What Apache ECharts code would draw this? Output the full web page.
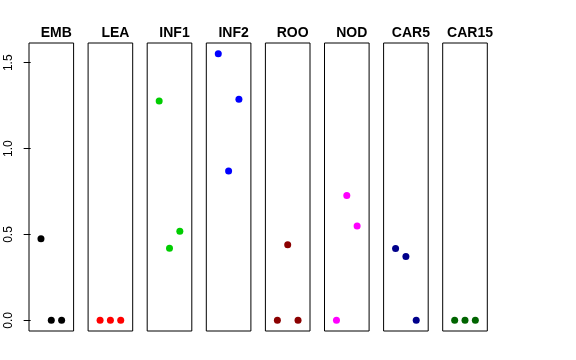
<!DOCTYPE html>
<html><head><meta charset="utf-8">
<script src="https://cdn.jsdelivr.net/npm/echarts@6/dist/echarts.min.js"></script>
<style>html,body{margin:0;padding:0;background:#fff}#c{width:576px;height:360px}</style>
</head><body><div id="c"></div>
<script>
var panels = ["EMB","LEA","INF1","INF2","ROO","NOD","CAR5","CAR15"];
var colors = ["#000000","#FF0000","#00CD00","#0000FF","#8B0000","#FF00FF","#00008B","#006400"];
var xs = [1,2,3];
var EMB  = [0.475, 0, 0];
var LEA  = [0, 0, 0];
var INF1 = [1.277, 0.42, 0.519];
var INF2 = [1.553, 0.870, 1.287];
var ROO  = [0, 0.44, 0];
var NOD  = [0, 0.727, 0.549];
var CAR5 = [0.418, 0.372, 0];
var CAR15= [0, 0, 0];
var values = [EMB, LEA, INF1, INF2, ROO, NOD, CAR5, CAR15];
var yTicks = [0, 0.5, 1.0, 1.5];
var yTickLabels = ["0.0","0.5","1.0","1.5"];

(function(){
var grids=[], xAxes=[], yAxes=[], series=[], titles=[];
var left0=29, step=59.1, w=44.6, gTop=43, gH=288;
panels.forEach(function(name,i){
  var L = left0 + i*step;
  grids.push({left:L, top:gTop, width:w, height:gH, show:true, borderColor:'#000', borderWidth:1, backgroundColor:'transparent'});
  xAxes.push({type:'value', gridIndex:i, min:-0.16, max:4.16, show:false});
  var ya = {type:'value', gridIndex:i, min:-0.062, max:1.615, show: i===0,
    axisLine:{show:false}, splitLine:{show:false}};
  if (i===0) {
    ya.axisTick = {show:true, length:7, lineStyle:{color:'#000'}, customValues:yTicks};
    ya.axisLabel = {show:true, rotate:90, margin:14, color:'#000', fontSize:12, fontFamily:'Liberation Sans, Arial, sans-serif',
      customValues:yTicks, formatter:function(v){ var k=yTicks.indexOf(v); return k>=0?yTickLabels[k]:''; }};
  } else {
    ya.axisTick={show:false}; ya.axisLabel={show:false};
  }
  yAxes.push(ya);
  series.push({type:'scatter', xAxisIndex:i, yAxisIndex:i, symbolSize:7, itemStyle:{color:colors[i], opacity:1},
    data: xs.map(function(x,j){return [x, values[i][j]];}), silent:true});
  titles.push({text:name, left:L+w/2, top:21, textAlign:'center',
    textStyle:{fontSize:14, fontWeight:'bold', color:'#000', fontFamily:'Liberation Sans, Arial, sans-serif'}});
});
var chart = echarts.init(document.getElementById('c'), null, {renderer:'canvas'});
chart.setOption({animation:false, backgroundColor:'#fff', title:titles, grid:grids, xAxis:xAxes, yAxis:yAxes, series:series});
})();
</script></body></html>
